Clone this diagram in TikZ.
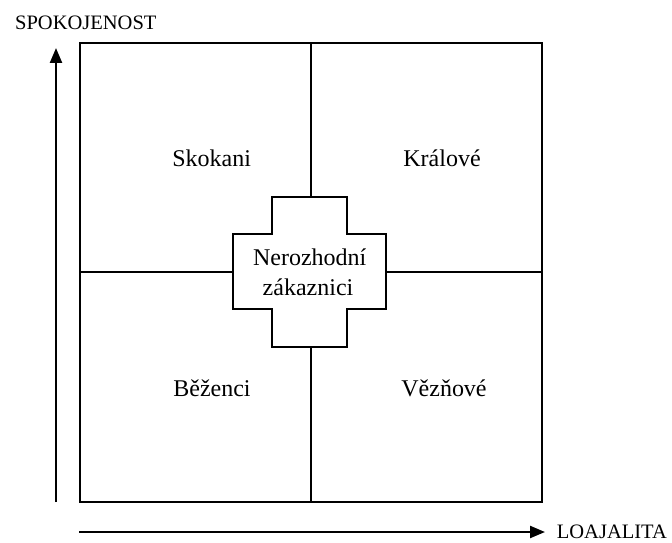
\documentclass[tikz,border=0pt]{standalone}
\usepackage{fontspec}
\setmainfont{Liberation Serif}
\usetikzlibrary{arrows.meta}
\begin{document}
\begin{tikzpicture}[x=1pt,y=-1pt,
  boxline/.style={line width=2.5pt, line join=miter},
  axisarrow/.style={line width=2.3pt, -{Triangle[length=15pt,width=12pt]}},
  quadlabel/.style={anchor=base, inner sep=0pt, font=\fontsize{24}{29}\selectfont},
  axislabel/.style={anchor=base west, inner sep=0pt, font=\fontsize{20.5}{24}\selectfont}]
\useasboundingbox[fill=white] (0,0) rectangle (672,543);
% square
\coordinate (tl) at (80,43);
\coordinate (br) at (542,502);
\coordinate (vt) at (311,43);
\coordinate (vb) at (311,502);
\coordinate (hl) at (80,272);
\coordinate (hr) at (542,272);
\coordinate (ct) at (311,197);
\coordinate (cb) at (311,347);
\coordinate (cl) at (233,272);
\coordinate (cr) at (386,272);
\draw[boxline] (tl) rectangle (br);
\draw[boxline] (vt) -- (ct);
\draw[boxline] (cb) -- (vb);
\draw[boxline] (hl) -- (cl);
\draw[boxline] (cr) -- (hr);
% cross
\draw[boxline, fill=white] (272,197) -- (347,197) -- (347,234) -- (386,234) -- (386,309) -- (347,309) -- (347,347) -- (272,347) -- (272,309) -- (233,309) -- (233,234) -- (272,234) -- cycle;
\node[quadlabel] (n1) at (309.7,265) {Nerozhodní};
\node[quadlabel] (n2) at (308,295) {zákaznici};
% quadrant labels
\node[quadlabel] (sk) at (211.7,166) {Skokani};
\node[quadlabel] (kr) at (442,166) {Králové};
\node[quadlabel] (be) at (212,396) {Běženci};
\node[quadlabel] (ve) at (444,396) {Vězňové};
% axes
\coordinate (ya) at (56,502);
\coordinate (yb) at (56,48);
\coordinate (xa) at (79,532);
\coordinate (xb) at (545,532);
\draw[axisarrow] (ya) -- (yb);
\draw[axisarrow] (xa) -- (xb);
\node[axislabel] (sp) at (15,29.3) {SPOKOJENOST};
\node[axislabel] (lo) at (556.7,538) {LOAJALITA};
\end{tikzpicture}
\end{document}
